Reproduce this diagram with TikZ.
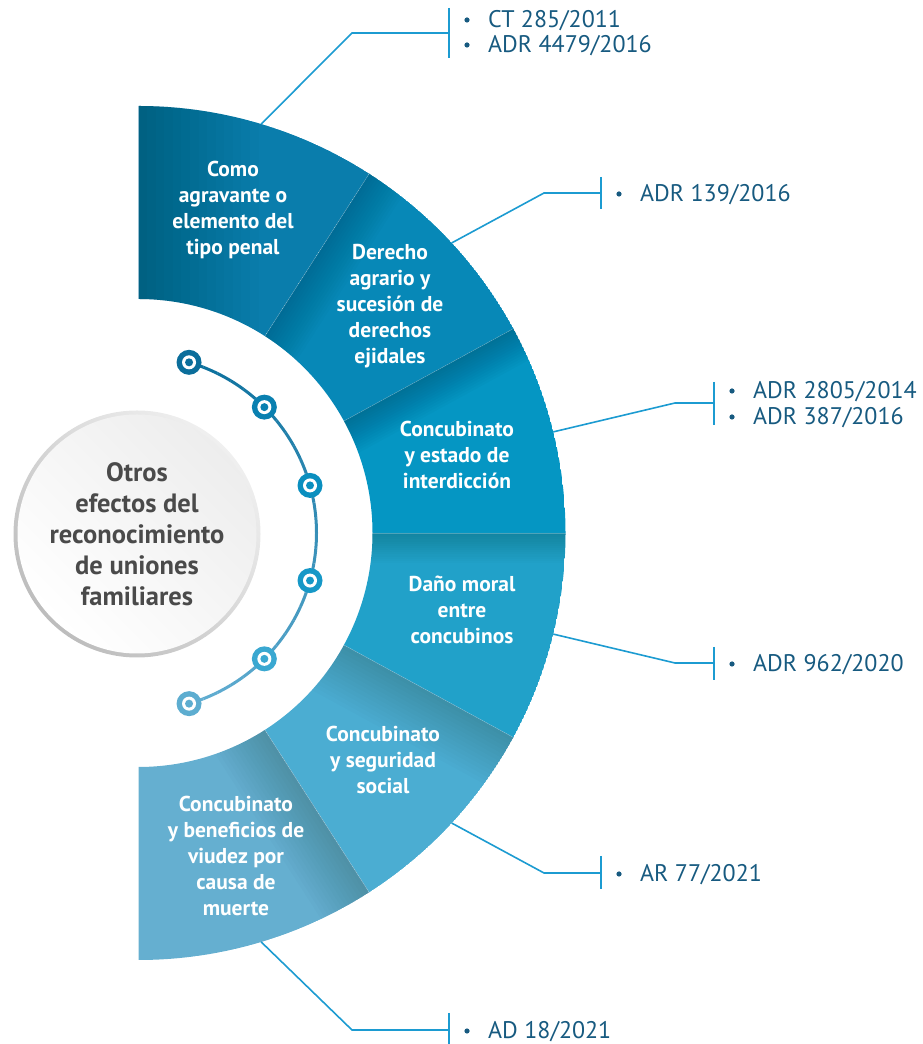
\documentclass[tikz,border=0pt]{standalone}
\usepackage{fontspec}
\setmainfont{PT Sans}
\usetikzlibrary{calc}
\definecolor{segA}{HTML}{0A7DAC}
\definecolor{segB}{HTML}{0788B7}
\definecolor{segC}{HTML}{0596C3}
\definecolor{segD}{HTML}{21A1C9}
\definecolor{segE}{HTML}{4BADD2}
\definecolor{segF}{HTML}{65AFD0}
\definecolor{lnblue}{HTML}{1C9BD1}
\definecolor{reftext}{HTML}{175A80}
\definecolor{hubtext}{HTML}{4A4A4A}
\definecolor{arcTop}{HTML}{0B6F9C}
\definecolor{arcBot}{HTML}{62AED2}
\definecolor{dotA}{HTML}{0B6E9B}
\definecolor{dotB}{HTML}{0A80B0}
\definecolor{dotC}{HTML}{0A8FBF}
\definecolor{dotD}{HTML}{1698C7}
\definecolor{dotE}{HTML}{3AA8D1}
\definecolor{dotF}{HTML}{5DADD0}
\newcommand\segpath[2]{($(C)+(#1:234pt)$) -- ($(C)+(#1:427pt)$) arc[start angle=#1,end angle=#2,radius=427pt] -- ($(C)+(#2:234pt)$) arc[start angle=#2,end angle=#1,radius=234pt] -- cycle}
\newcommand\drawseg[5]{%
  \begin{scope}
    \clip \segpath{#1}{#2};
    \fill[#3] \segpath{#1}{#2};
    \begin{scope}[shift={(C)},rotate=#1-90]
      \foreach \k in {1,...,14} {\fill[black,opacity=#5] (-3,150) rectangle ({\k*#4/14},450);}
    \end{scope}
  \end{scope}}
\tikzset{
  segtext/.style={text=white, align=center, font=\bfseries\fontsize{21.5}{26}\selectfont, inner sep=0pt},
  callout/.style={draw=lnblue, line width=1.6pt},
  refbar/.style={draw=lnblue, line width=2pt},
  reflabel/.style={text=reftext, font=\fontsize{24}{26}\selectfont, anchor=west, inner sep=0pt, text height=17pt, text depth=0pt},
  refdot/.style={fill=reftext}
}
\begin{document}
\begin{tikzpicture}[x=1pt,y=1pt]
\useasboundingbox (0,0) rectangle (923,1044);
\coordinate (C) at (138.5,511);

% segments
\drawseg{90}{57.3}{segA}{120}{0.016}
\drawseg{57.3}{28.6}{segB}{40}{0.013}
\drawseg{28.6}{0}{segC}{35}{0.014}
\drawseg{0}{-28.6}{segD}{30}{0.013}
\drawseg{-28.6}{-57.3}{segE}{55}{0.013}
\drawseg{-57.3}{-90}{segF}{55}{0.012}
\foreach \a in {57.3,28.6,0,-28.6,-57.3}
  \draw[white,opacity=0.25,line width=0.5pt] ($(C)+(\a:234pt)$) -- ($(C)+(\a:427pt)$);

% segment labels
\node[segtext] (t1) at (233,834) {Como\\agravante o\\elemento del\\tipo penal};
\node[segtext] (t2) at (390,738) {Derecho\\agrario y\\sucesión de\\derechos\\ejidales};
\node[segtext] (t3) at (457,589) {Concubinato\\y estado de\\interdicción};
\node[segtext] (t4) at (462,434) {Daño moral\\entre\\concubinos};
\node[segtext] (t5) at (383,284) {Concubinato\\y seguridad\\social};
\node[segtext] (t6) at (236,188) {Concubinato\\y beneficios de\\viudez por\\causa de\\muerte};

% dotted arc
\foreach \i in {0,...,29} {
  \pgfmathsetmacro\aa{73.5-\i*147/30}
  \pgfmathsetmacro\ab{73.5-(\i+1)*147/30}
  \pgfmathtruncatemacro\pp{100-\i*100/29}
  \draw[line width=3pt, color=arcTop!\pp!arcBot] ($(C)+(\aa:178pt)$) arc[start angle=\aa, end angle=\ab, radius=178pt];
}
\foreach \a/\c in {73.5/dotA,45/dotB,15.5/dotC,-15.5/dotD,-45/dotE,-73.5/dotF} {
  \fill[\c] ($(C)+(\a:178pt)$) circle[radius=12.5pt];
  \fill[white] ($(C)+(\a:178pt)$) circle[radius=7pt];
  \fill[\c] ($(C)+(\a:178pt)$) circle[radius=4pt];
}

% hub circle
\shade[top color=black!6, bottom color=black!26, shading angle=-45] (137,510) circle[radius=123.5pt];
\node[circle, minimum size=239pt, inner sep=0pt, shade, top color=black!7, bottom color=white, shading angle=-45,
  text=hubtext, align=center, font=\bfseries\fontsize{26.5}{31}\selectfont] (hub) at (137,510)
  {Otros\\efectos del\\reconocimiento\\de uniones\\familiares};

% callouts
\coordinate (s1) at ($(C)+(73.3:427pt)$);  \coordinate (e1) at (352,1011); \coordinate (b1) at (449,1011);
\coordinate (b1t) at (449,1036); \coordinate (b1b) at (449,986);
\coordinate (s2) at ($(C)+(42.8:427pt)$);  \coordinate (e2) at (544,851);  \coordinate (b2) at (601,851);
\coordinate (b2t) at (601,867); \coordinate (b2b) at (601,835);
\coordinate (s3) at ($(C)+(13.7:427pt)$);  \coordinate (e3) at (675,641);  \coordinate (b3) at (714,641);
\coordinate (b3t) at (714,662); \coordinate (b3b) at (714,619);
\coordinate (s4) at ($(C)+(-13.7:427pt)$); \coordinate (e4) at (675,381);  \coordinate (b4) at (714,381);
\coordinate (b4t) at (714,397); \coordinate (b4b) at (714,364);
\coordinate (s5) at ($(C)+(-42.8:427pt)$); \coordinate (e5) at (544,171);  \coordinate (b5) at (601,171);
\coordinate (b5t) at (601,188); \coordinate (b5b) at (601,155);
\coordinate (s6) at ($(C)+(-73.3:427pt)$); \coordinate (e6) at (352,14);   \coordinate (b6) at (449,14);
\coordinate (b6t) at (449,31); \coordinate (b6b) at (449,-4);
\foreach \k in {1,...,6} {
  \draw[callout] (s\k) -- (e\k) -- (b\k);
  \draw[refbar] (b\k t) -- (b\k b);
}

% reference labels
\fill[refdot] (467,1024) circle[radius=2.6pt]; \node[reflabel] (r1a) at (488,1025) {CT 285/2011};
\fill[refdot] (467,999) circle[radius=2.6pt];  \node[reflabel] (r1b) at (488,1000) {ADR 4479/2016};
\fill[refdot] (619,850) circle[radius=2.6pt];  \node[reflabel] (r2) at (640,851) {ADR 139/2016};
\fill[refdot] (732,653) circle[radius=2.6pt];  \node[reflabel] (r3a) at (753,654) {ADR 2805/2014};
\fill[refdot] (732,627) circle[radius=2.6pt];  \node[reflabel] (r3b) at (753,628) {ADR 387/2016};
\fill[refdot] (732,380) circle[radius=2.6pt];  \node[reflabel] (r4) at (753,381) {ADR 962/2020};
\fill[refdot] (619,170) circle[radius=2.6pt];  \node[reflabel] (r5) at (640,171) {AR 77/2021};
\fill[refdot] (467,13) circle[radius=2.6pt];   \node[reflabel] (r6) at (488,14) {AD 18/2021};
\end{tikzpicture}
\end{document}
